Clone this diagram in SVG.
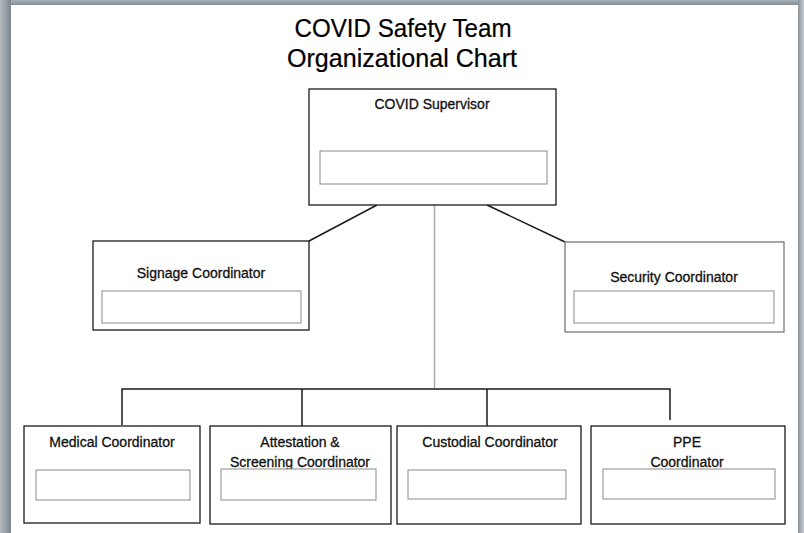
<svg xmlns="http://www.w3.org/2000/svg" width="804" height="533" viewBox="0 0 804 533">
<defs>
<style>
.box{fill:#fff;stroke:#1a1a1a;stroke-width:1.3}
.box2{fill:#fff;stroke:#6e6e6e;stroke-width:1.2}
.inner{fill:#fff;stroke:#8a8a8a;stroke-width:1}
.lbl{font-family:"Liberation Sans",Arial,sans-serif;font-size:14px;fill:#111;stroke:#111;stroke-width:0.3;text-anchor:middle}
.title{font-family:"Liberation Sans",Arial,sans-serif;font-size:25px;fill:#000;stroke:#000;stroke-width:0.2;text-anchor:middle}
.conn{stroke:#1a1a1a;stroke-width:1.5;fill:none}
.connG{stroke:#a8a8a8;stroke-width:1.5;fill:none}
</style>
<linearGradient id="gl" x1="0" y1="0" x2="1" y2="0">
<stop offset="0" stop-color="#b4bcc2"/>
<stop offset="1" stop-color="#7c858c"/>
</linearGradient>
<linearGradient id="gt" x1="0" y1="0" x2="0" y2="1">
<stop offset="0" stop-color="#a9b1b7"/>
<stop offset="1" stop-color="#838c93"/>
</linearGradient>
<linearGradient id="gr" x1="0" y1="0" x2="1" y2="0">
<stop offset="0" stop-color="#8a9299"/>
<stop offset="1" stop-color="#c6ccd0"/>
</linearGradient>
</defs>
<rect x="0" y="0" width="804" height="533" fill="#fff"/>
<g id="frame">
<rect x="0" y="0" width="804" height="5" fill="url(#gt)"/>
<rect x="0" y="0" width="11" height="533" fill="url(#gl)"/>
<rect x="798" y="0" width="6" height="533" fill="url(#gr)"/>
</g>
<g id="title">
<text class="title" x="403" y="37" textLength="217" lengthAdjust="spacingAndGlyphs">COVID Safety Team</text>
<text class="title" x="402" y="67" textLength="230" lengthAdjust="spacingAndGlyphs">Organizational Chart</text>
</g>
<g id="connectors">
<line class="connG" x1="434.5" y1="205" x2="434.5" y2="389"/>
<line class="conn" x1="377" y1="205" x2="309" y2="241"/>
<line class="conn" x1="487" y1="205" x2="565" y2="242"/>
<polyline class="conn" points="122,425 122,389 670,389 670,420"/>
<line class="conn" x1="302" y1="389" x2="302" y2="426"/>
<line class="conn" x1="487" y1="389" x2="487" y2="426"/>
</g>
<g id="supervisor">
<rect class="box" x="309" y="89" width="247" height="116"/>
<text class="lbl" x="432" y="109">COVID Supervisor</text>
<rect class="inner" x="320" y="151" width="227" height="33"/>
</g>
<g id="signage">
<rect class="box" x="93" y="241" width="216" height="89"/>
<text class="lbl" x="201" y="278">Signage Coordinator</text>
<rect class="inner" x="102" y="291" width="199" height="32"/>
</g>
<g id="security">
<rect class="box2" x="565" y="242" width="219" height="90"/>
<text class="lbl" x="674" y="282">Security Coordinator</text>
<rect class="inner" x="574" y="291" width="200" height="32"/>
</g>
<g id="medical">
<rect class="box" x="24" y="426" width="176" height="97"/>
<text class="lbl" x="112" y="447">Medical Coordinator</text>
<rect class="inner" x="36" y="470" width="154" height="30"/>
</g>
<g id="attestation">
<rect class="box" x="210" y="426" width="181" height="98"/>
<text class="lbl" x="300" y="447">Attestation &amp;</text>
<text class="lbl" x="300" y="467">Screening Coordinator</text>
<rect class="inner" x="221" y="469" width="155" height="31"/>
</g>
<g id="custodial">
<rect class="box" x="397" y="426" width="184" height="98"/>
<text class="lbl" x="490" y="447">Custodial Coordinator</text>
<rect class="inner" x="408" y="470" width="158" height="29"/>
</g>
<g id="ppe">
<rect class="box" x="591" y="426" width="194" height="98"/>
<text class="lbl" x="687" y="447">PPE</text>
<text class="lbl" x="687" y="467">Coordinator</text>
<rect class="inner" x="603" y="469" width="172" height="30"/>
</g>
</svg>
